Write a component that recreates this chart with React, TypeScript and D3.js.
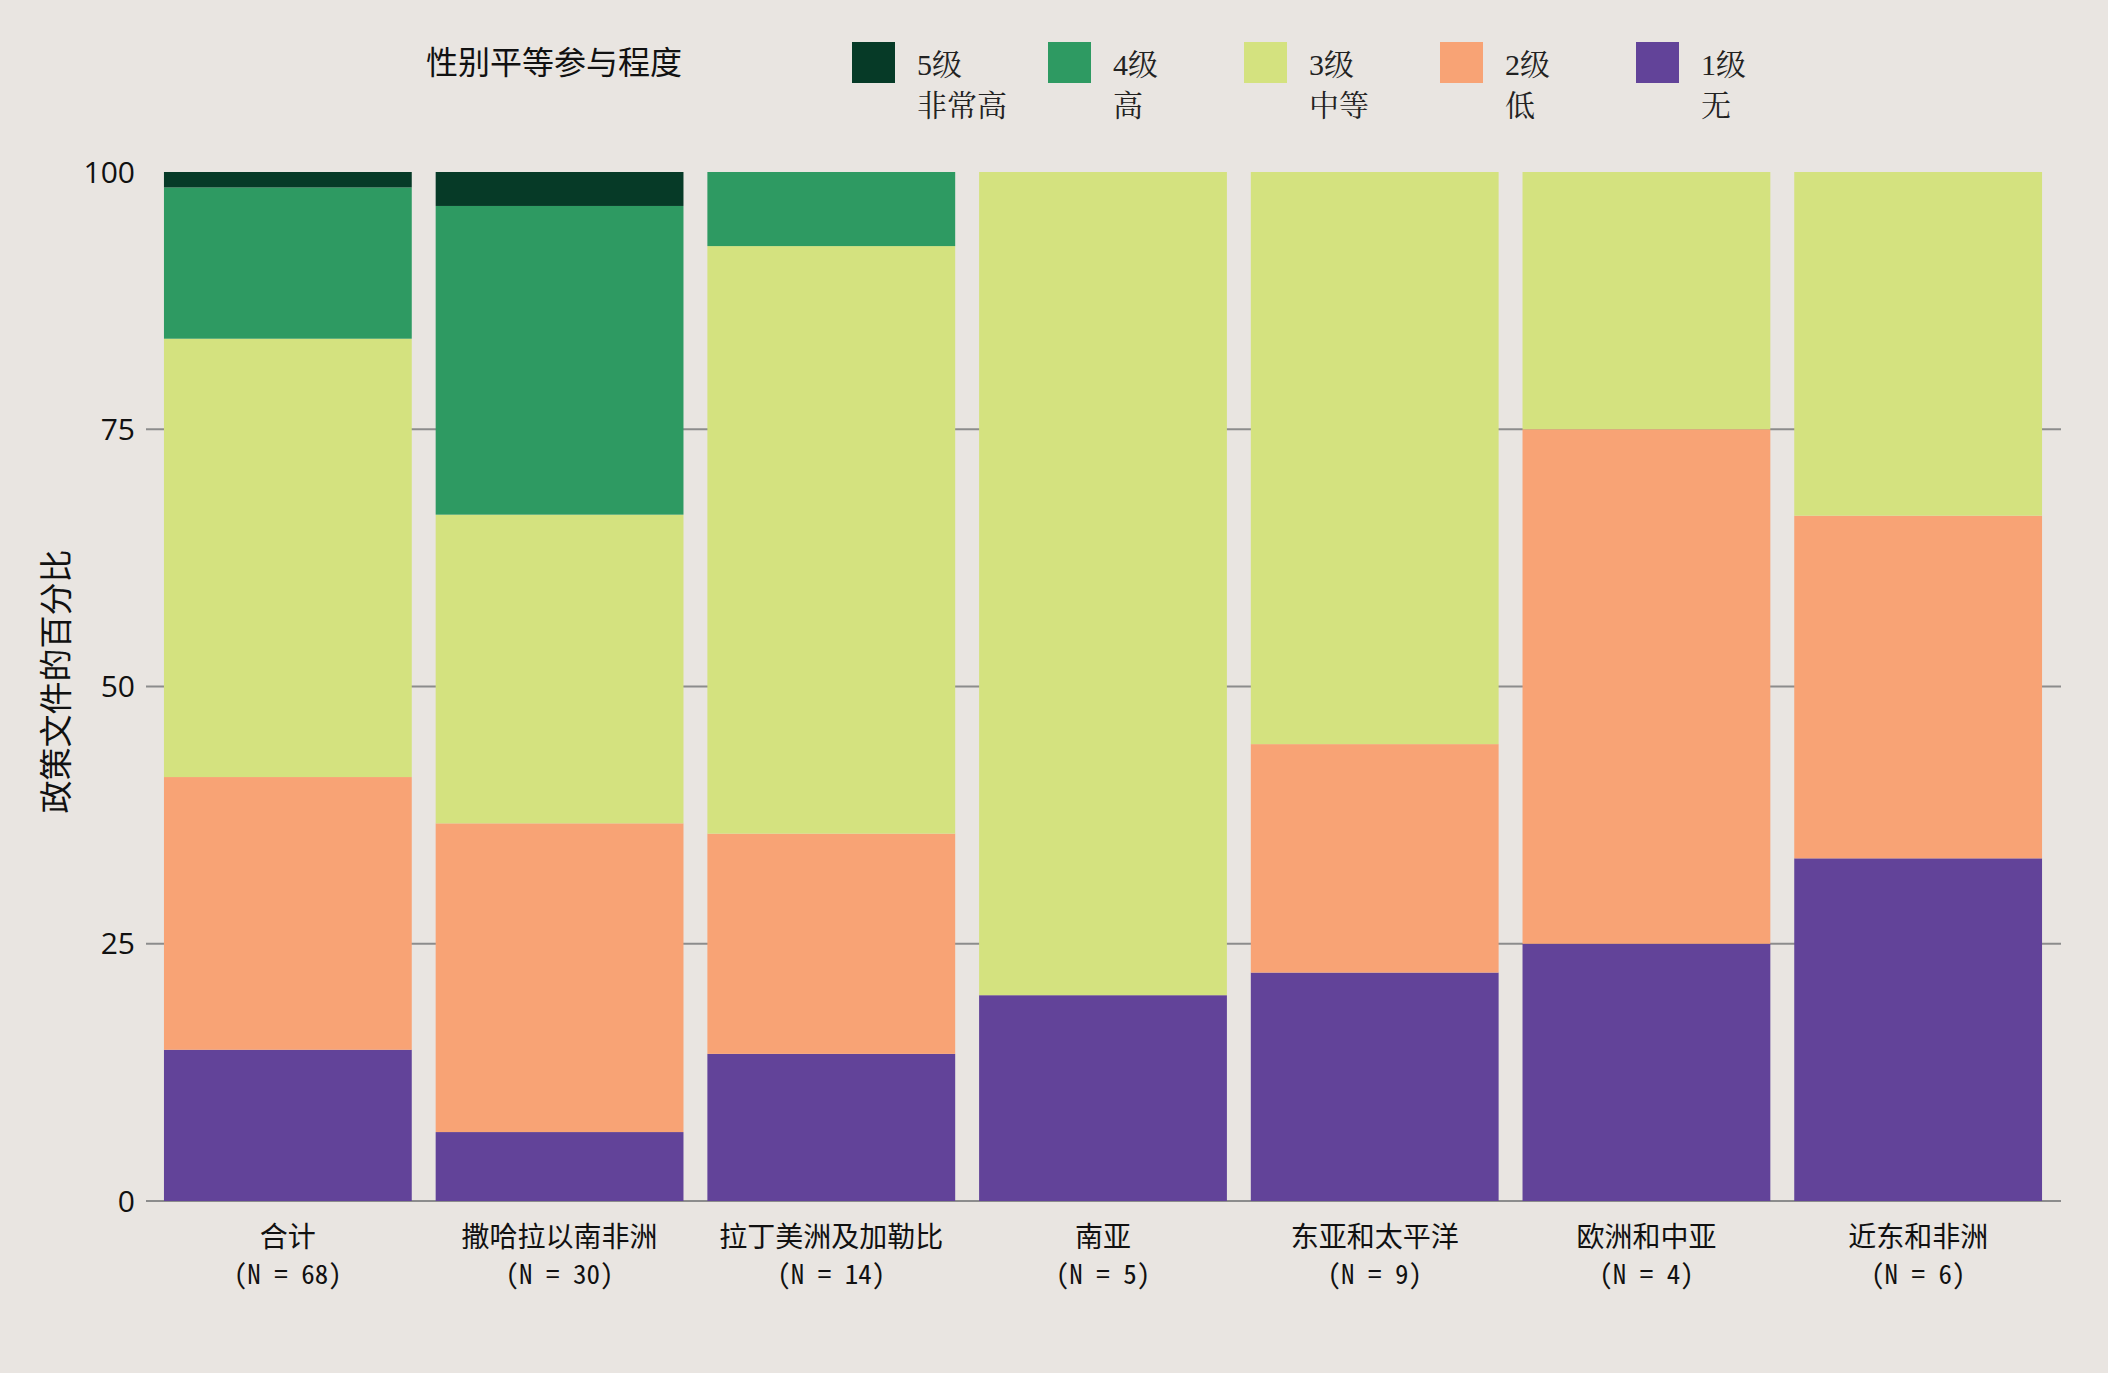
import React, { useEffect, useRef } from "react";
import * as d3 from "d3";

// regions (x categories) and their document counts
const regions = ["合计", "撒哈拉以南非洲", "拉丁美洲及加勒比", "南亚", "东亚和太平洋", "欧洲和中亚", "近东和非洲"];
const sampleSizes = [68, 30, 14, 5, 9, 4, 6];

// percentage of policy documents per level, one array per level (bottom to top)
const level1 = [14.7, 6.7, 14.3, 20.0, 22.2, 25.0, 33.3];
const level2 = [26.5, 30.0, 21.4, 0, 22.2, 50.0, 33.3];
const level3 = [42.6, 30.0, 57.1, 80.0, 55.6, 25.0, 33.4];
const level4 = [14.7, 30.0, 7.2, 0, 0, 0, 0];
const level5 = [1.5, 3.3, 0, 0, 0, 0, 0];

const levelKeys = ["l1", "l2", "l3", "l4", "l5"];
const levelColors = ["#624399", "#f8a375", "#d4e27f", "#2e9a62", "#063a27"];
const legendLevels = ["5级", "4级", "3级", "2级", "1级"];
const legendNames = ["非常高", "高", "中等", "低", "无"];
const yTicks = [0, 25, 50, 75, 100];

const W = 2108;
const H = 1373;
const BG = "#e9e5e1";
const CJK = "'Noto Sans CJK SC', 'Noto Sans', sans-serif";
const SERIF = "'Liberation Serif', 'Noto Serif CJK SC', serif";

const App = () => {
  const ref = useRef<SVGSVGElement>(null);

  useEffect(() => {
    const svg = d3.select(ref.current);
    svg.selectAll("*").remove();

    const table = regions.map((r, i) => ({
      region: r,
      l1: level1[i],
      l2: level2[i],
      l3: level3[i],
      l4: level4[i],
      l5: level5[i],
    }));

    const x = d3
      .scaleBand()
      .domain(regions)
      .range([152, 2054])
      .paddingInner(0.088)
      .paddingOuter(0.044);

    const y = d3.scaleLinear().domain([0, 100]).range([1201, 172]);

    const color = d3.scaleOrdinal<string, string>().domain(levelKeys).range(levelColors);

    svg.append("rect").attr("width", W).attr("height", H).attr("fill", BG);

    // grid lines (0..75)
    svg
      .append("g")
      .selectAll("line")
      .data(yTicks.filter((t) => t < 100))
      .join("line")
      .attr("x1", 146)
      .attr("x2", 2061)
      .attr("y1", (d) => y(d))
      .attr("y2", (d) => y(d))
      .attr("stroke", "#8c8c8c")
      .attr("stroke-width", 2);

    const stacked = d3.stack<any>().keys(levelKeys)(table);

    svg
      .append("g")
      .selectAll("g")
      .data(stacked)
      .join("g")
      .attr("fill", (d) => color(d.key))
      .selectAll("rect")
      .data((d) => d)
      .join("rect")
      .attr("x", (d: any) => x(d.data.region)!)
      .attr("width", x.bandwidth())
      .attr("y", (d) => y(d[1]))
      .attr("height", (d) => y(d[0]) - y(d[1]));

    // y tick labels
    svg
      .append("g")
      .selectAll("text")
      .data(yTicks)
      .join("text")
      .attr("x", 135)
      .attr("y", (d) => y(d))
      .attr("dy", "0.35em")
      .attr("text-anchor", "end")
      .style("font-family", "'Open Sans', sans-serif")
      .style("font-size", "30px")
      .attr("fill", "#111")
      .text((d) => d);

    // y axis title
    svg
      .append("text")
      .attr("transform", `translate(56,${(y(0) + y(100)) / 2 - 5}) rotate(-90)`)
      .attr("text-anchor", "middle")
      .attr("dy", "0.35em")
      .style("font-family", CJK)
      .style("font-size", "33px")
      .attr("fill", "#111")
      .text("政策文件的百分比");

    // x labels
    const xl = svg
      .append("g")
      .selectAll("g")
      .data(regions)
      .join("g")
      .attr("transform", (d) => `translate(${x(d)! + x.bandwidth() / 2},0)`);
    xl.append("text")
      .attr("y", 1237)
      .attr("dy", "0.35em")
      .attr("text-anchor", "middle")
      .style("font-family", CJK)
      .style("font-size", "28px")
      .attr("fill", "#111")
      .text((d) => d);
    xl.append("text")
      .attr("y", 1275)
      .attr("dy", "0.35em")
      .attr("text-anchor", "middle")
      .style("font-family", "'Noto Sans Mono CJK SC', 'DejaVu Sans Mono', monospace")
      .style("font-size", "27px")
      .attr("fill", "#111")
      .text((d, i) => `(N = ${sampleSizes[i]})`);

    // legend
    const legend = svg.append("g");
    legend
      .append("text")
      .attr("x", 426)
      .attr("y", 63)
      .attr("dy", "0.35em")
      .style("font-family", CJK)
      .style("font-size", "32px")
      .attr("fill", "#111")
      .text("性别平等参与程度");

    const legendColors = [...levelColors].reverse();
    legendLevels.forEach((lv, i) => {
      const g = legend.append("g").attr("transform", `translate(${852 + i * 196},0)`);
      g.append("rect")
        .attr("x", 0)
        .attr("y", 42)
        .attr("width", 43)
        .attr("height", 41)
        .attr("fill", legendColors[i]);
      g.append("text")
        .attr("x", 65)
        .attr("y", 64)
        .attr("dy", "0.35em")
        .style("font-family", SERIF)
        .style("font-size", "30px")
        .attr("fill", "#222")
        .text(lv);
      g.append("text")
        .attr("x", 65)
        .attr("y", 105)
        .attr("dy", "0.35em")
        .style("font-family", SERIF)
        .style("font-size", "30px")
        .attr("fill", "#222")
        .text(legendNames[i]);
    });
  }, []);

  return (
    <svg
      ref={ref}
      width={W}
      height={H}
      style={{ display: "block", position: "absolute", left: 0, top: 0 }}
    ></svg>
  );
};

export default App;
